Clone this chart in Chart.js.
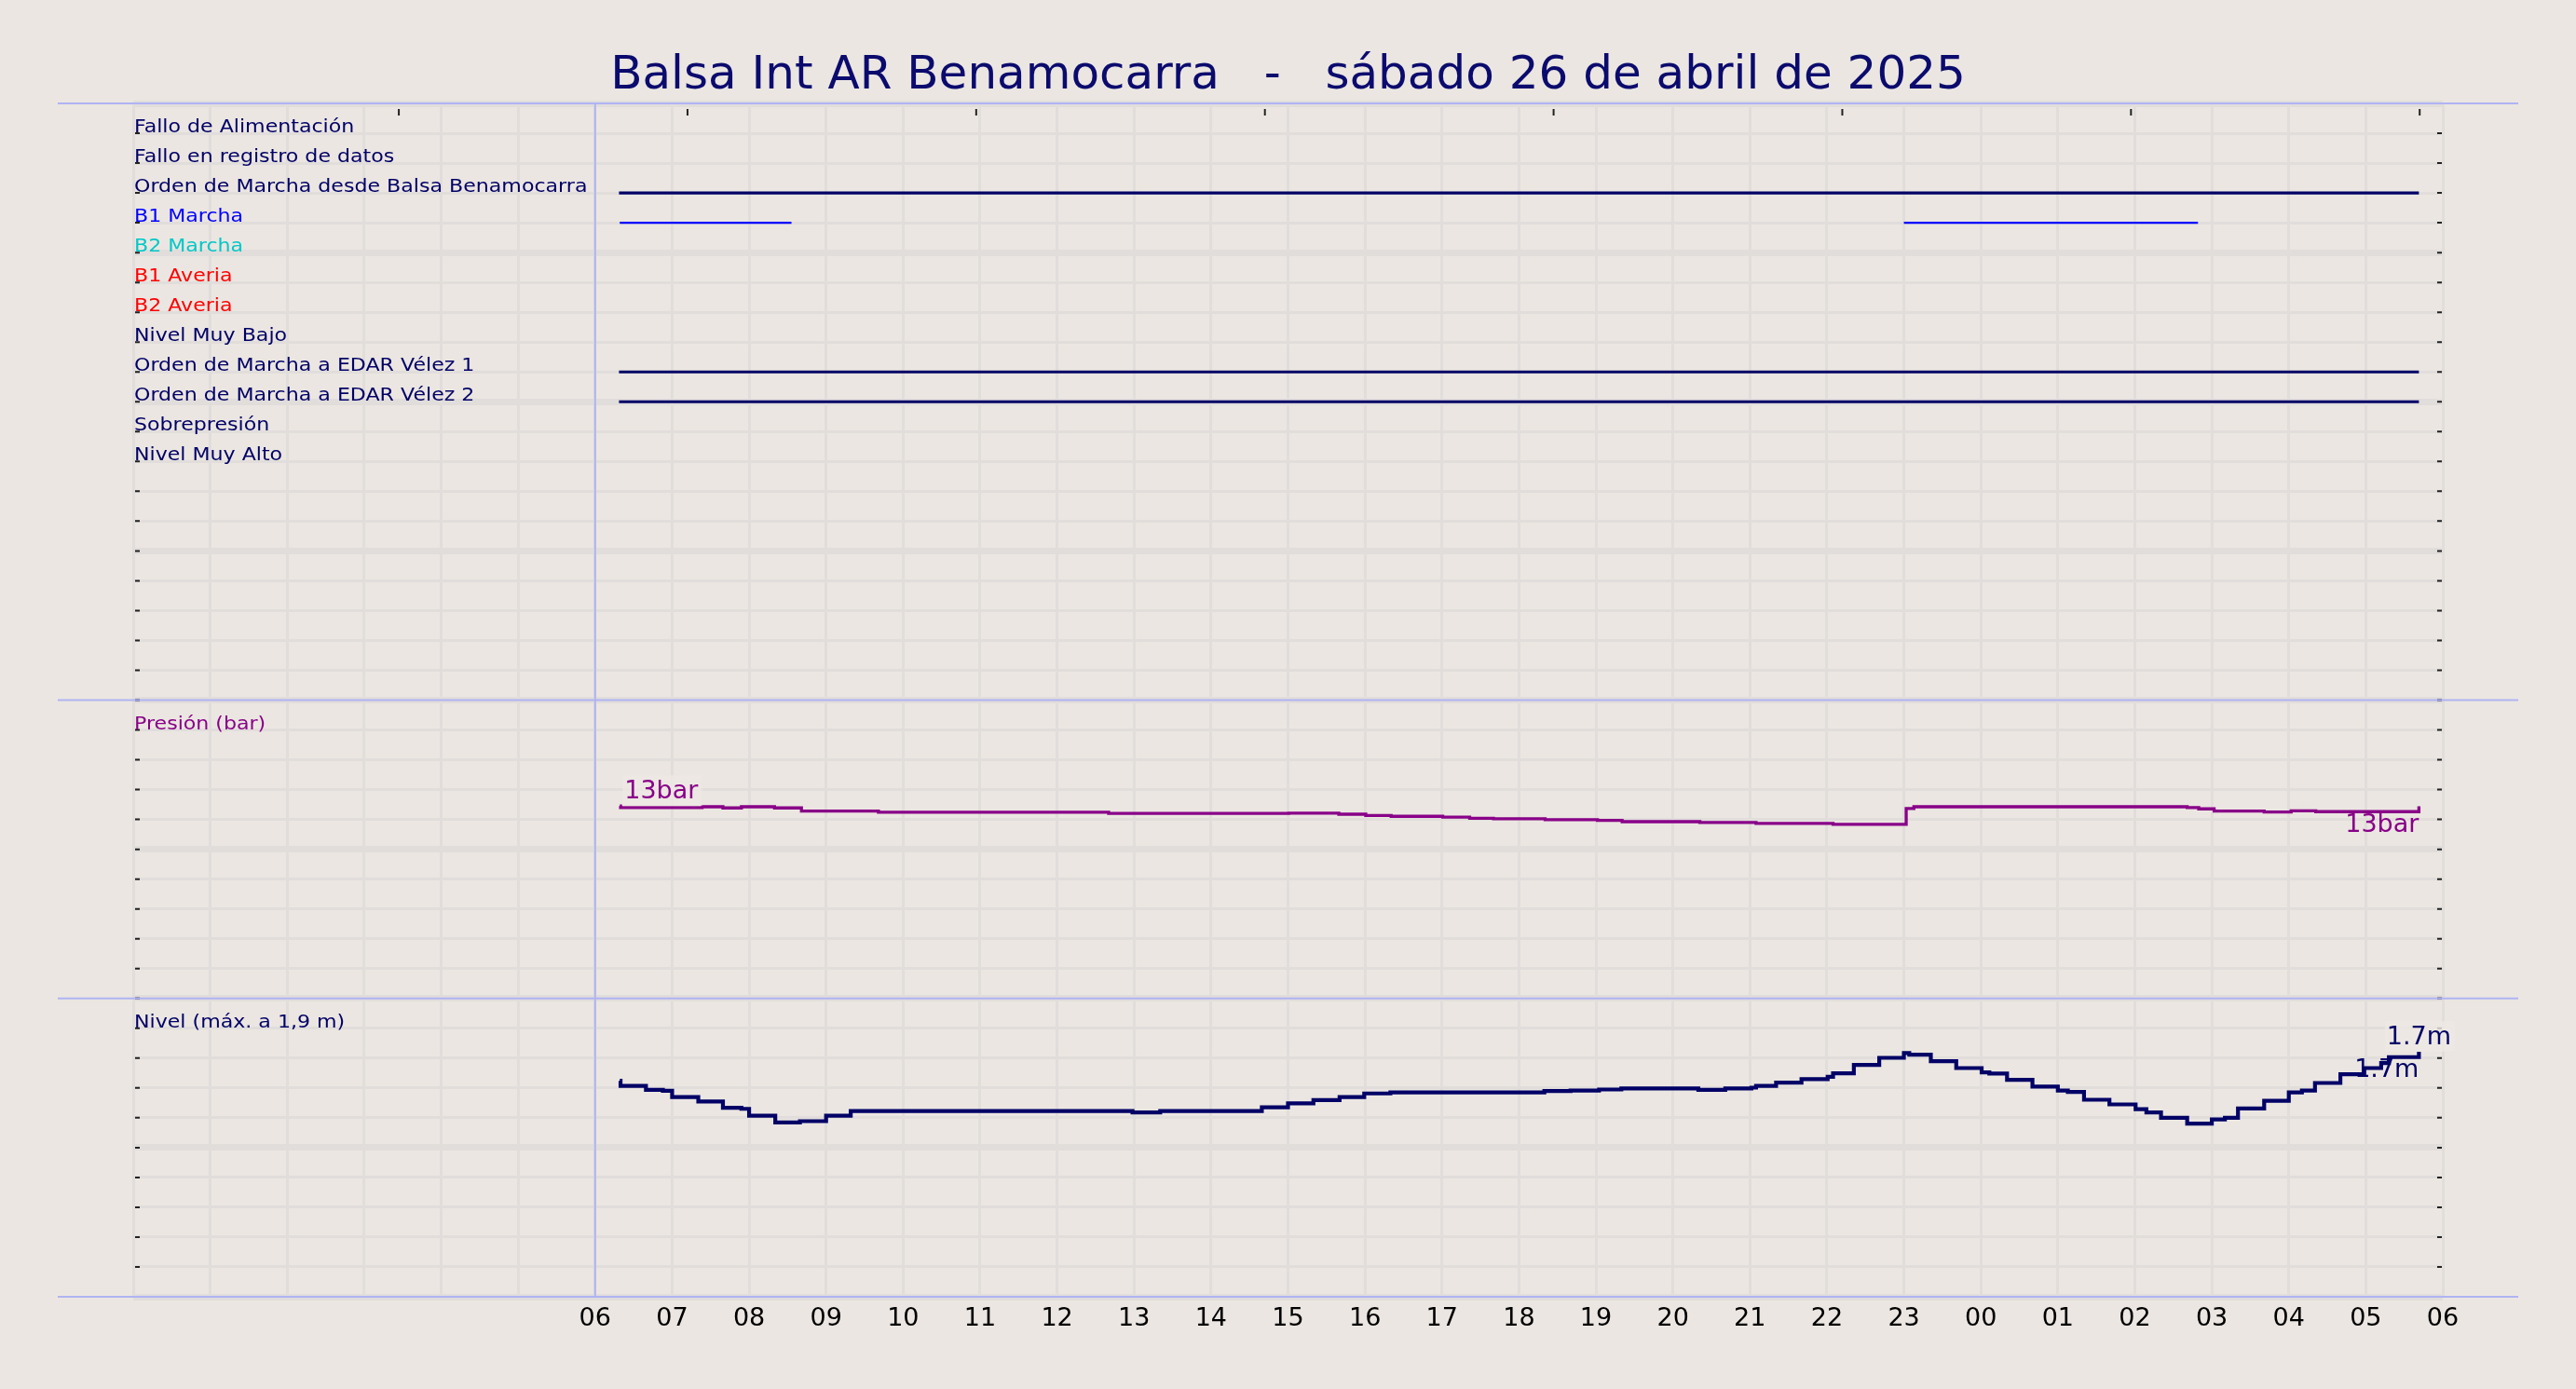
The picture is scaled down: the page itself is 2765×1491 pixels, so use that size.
<!DOCTYPE html>
<html><head><meta charset="utf-8">
<script src="https://cdn.jsdelivr.net/npm/chart.js@4.4.1/dist/chart.umd.min.js"></script>
<style>html,body{margin:0;padding:0;background:#ebe6e1;overflow:hidden}#wrap{width:2765px;height:1491px}</style>
</head><body><div id="wrap"><canvas id="c"></canvas></div>
<script>
// ---------------- data ----------------
const titleText = 'Balsa Int AR Benamocarra   -   sábado 26 de abril de 2025';
const hourLabels = ['', '', '', '', '', '', '06', '07', '08', '09', '10', '11', '12', '13', '14', '15', '16', '17', '18', '19', '20', '21', '22', '23', '00', '01', '02', '03', '04', '05', '06'];
const dayStartHour = 6;
const topTickHours = [3.45, 7.2, 10.95, 14.7, 18.45, 22.2, 25.95, 29.7];

const signalNames = ['Fallo de Alimentación', 'Fallo en registro de datos', 'Orden de Marcha desde Balsa Benamocarra', 'B1 Marcha', 'B2 Marcha', 'B1 Averia', 'B2 Averia', 'Nivel Muy Bajo', 'Orden de Marcha a EDAR Vélez 1', 'Orden de Marcha a EDAR Vélez 2', 'Sobrepresión', 'Nivel Muy Alto'];
const signalLabelColors = ['#000066', '#000066', '#000066', '#0000ff', '#00c8c8', '#ff0000', '#ff0000', '#000066', '#000066', '#000066', '#000066', '#000066'];
const signalLineColors = ['#000066', '#000066', '#000066', '#0000ff', '#00c8c8', '#ff0000', '#ff0000', '#000066', '#000066', '#000066', '#000066', '#000066'];
const signalOn = [[], [], [[6.31, 29.69]], [[6.32, 8.55], [23.0, 26.82]], [], [], [], [], [[6.31, 29.69]], [[6.31, 29.69]], [], []];

const panelTitles = ['Presión (bar)', 'Nivel (máx. a 1,9 m)'];

const pressureHours = [6.32, 6.33, 7.39, 7.66, 7.90, 8.33, 8.68, 9.68, 12.67, 15.01, 15.66, 16.01, 16.34, 17.01, 17.36, 17.67, 18.34, 19.02, 19.34, 20.35, 21.08, 22.08, 23.03, 23.13, 26.68, 26.83, 27.03, 27.68, 28.03, 28.35, 29.69];
const pressureValues = [12.90, 12.79, 12.85, 12.77, 12.85, 12.77, 12.56, 12.48, 12.40, 12.42, 12.35, 12.27, 12.21, 12.15, 12.08, 12.04, 11.98, 11.94, 11.85, 11.79, 11.73, 11.67, 12.73, 12.85, 12.79, 12.71, 12.56, 12.50, 12.58, 12.52, 12.88];

const levelHours = [6.32, 6.33, 6.66, 6.88, 7.00, 7.34, 7.66, 7.90, 8.00, 8.34, 8.66, 9.00, 9.32, 12.98, 13.34, 14.66, 15.00, 15.33, 15.67, 15.99, 16.33, 18.33, 18.67, 19.04, 19.33, 20.33, 20.68, 21.02, 21.08, 21.34, 21.67, 22.01, 22.08, 22.35, 22.68, 23.00, 23.07, 23.35, 23.68, 24.01, 24.11, 24.34, 24.67, 25.00, 25.13, 25.34, 25.67, 26.01, 26.15, 26.34, 26.68, 27.00, 27.17, 27.34, 27.68, 28.00, 28.17, 28.34, 28.67, 28.98, 29.20, 29.30, 29.69];
const levelValues = [1.52, 1.485, 1.457, 1.450, 1.406, 1.374, 1.330, 1.323, 1.275, 1.227, 1.236, 1.275, 1.308, 1.297, 1.308, 1.334, 1.361, 1.385, 1.406, 1.431, 1.439, 1.448, 1.452, 1.459, 1.466, 1.457, 1.466, 1.472, 1.485, 1.507, 1.532, 1.549, 1.573, 1.632, 1.682, 1.715, 1.704, 1.658, 1.610, 1.579, 1.571, 1.527, 1.479, 1.451, 1.442, 1.387, 1.354, 1.321, 1.297, 1.260, 1.219, 1.249, 1.260, 1.326, 1.380, 1.439, 1.452, 1.505, 1.566, 1.610, 1.645, 1.687, 1.724];

// ---------------- style ----------------
const BG = '#ebe6e1', GRID = '#e1dddb', SEP = '#b0b3f3';
const FONT = '"DejaVu Sans", "Noto Sans", sans-serif';
Chart.defaults.font.family = FONT;

const datasets = [];
signalOn.forEach((ivs, i) => {
  if (!ivs.length) return;
  const data = [];
  ivs.forEach(([s, e], k) => {
    if (k) data.push({x: s, y: null});
    data.push({x: s, y: i + 1}, {x: e, y: i + 1});
  });
  datasets.push({data, yAxisID: 'yD', borderColor: signalLineColors[i], borderWidth: signalLineColors[i] === '#0000ff' ? 2.3 : 3.2, pointRadius: 0, spanGaps: false});
});
datasets.push({data: pressureHours.map((h, i) => ({x: h, y: pressureValues[i]})), yAxisID: 'yP', stepped: true, borderColor: '#880088', borderWidth: 3.3, pointRadius: 0});
datasets.push({data: levelHours.map((h, i) => ({x: h, y: levelValues[i]})), yAxisID: 'yL', stepped: true, borderColor: '#000066', borderWidth: 4.2, pointRadius: 0});
const presIdx = datasets.length - 2, lvlIdx = datasets.length - 1;

const gridOpts = {color: GRID, lineWidth: c => (c.index % 5 === 0 ? 7 : 3), drawTicks: false};

function drawValueLabels(ctx, meta, values, fmt, color) {
  const pts = meta.data;
  let mi = 0;
  values.forEach((v, i) => { if (v > values[mi]) mi = i; });
  const last = pts.length - 1;
  ctx.font = '27px ' + FONT;
  ctx.textBaseline = 'alphabetic';
  ctx.textAlign = 'left';
  // max label with a soft box
  const t1 = fmt(values[mi]);
  const w1 = ctx.measureText(t1).width;
  const x1 = Math.max(pts[mi].x - w1 / 2, pts[0].x + 5);
  const y1 = pts[mi].y - 8;
  ctx.fillStyle = 'rgba(237,233,228,0.8)';
  ctx.fillRect(x1 - 2, y1 - 25, w1 + 6, 33);
  ctx.fillStyle = color;
  ctx.fillText(t1, x1, y1);
  // last value label
  const t2 = fmt(values[last]);
  const w2 = ctx.measureText(t2).width;
  ctx.fillText(t2, pts[last].x - w2, pts[last].y + 27);
}

function stretchedText(ctx, text, x, y) {
  ctx.save();
  ctx.translate(x, y);
  ctx.scale(1.105, 1);
  ctx.fillText(text, 0, 0);
  ctx.restore();
}

const decor = {
  id: 'decor',
  beforeDraw(chart) {
    const c = chart.ctx;
    c.save(); c.fillStyle = BG; c.fillRect(0, 0, chart.width, chart.height); c.restore();
  },
  beforeDatasetsDraw(chart) {
    const {ctx, chartArea: a, scales: s} = chart;
    ctx.save();
    // side dashes
    ctx.strokeStyle = '#222'; ctx.lineWidth = 2;
    ['yD', 'yP', 'yL'].forEach(id => {
      s[id].ticks.forEach((t, i) => {
        const y = s[id].getPixelForTick(i);
        ctx.beginPath();
        ctx.moveTo(a.left + 2, y); ctx.lineTo(a.left + 7, y);
        ctx.moveTo(a.right - 6, y); ctx.lineTo(a.right - 1, y);
        ctx.stroke();
      });
    });
    // top ticks
    ctx.lineWidth = 2;
    topTickHours.forEach(h => {
      const x = s.x.getPixelForValue(h);
      ctx.beginPath(); ctx.moveTo(x, a.top + 6); ctx.lineTo(x, a.top + 13); ctx.stroke();
    });
    // separators
    ctx.strokeStyle = SEP; ctx.lineWidth = 2;
    [s.yD.top, s.yP.top, s.yL.top, s.yL.bottom].forEach(y => {
      ctx.beginPath(); ctx.moveTo(a.left - 81, y); ctx.lineTo(a.right + 81, y); ctx.stroke();
    });
    const xd = s.x.getPixelForValue(dayStartHour);
    ctx.beginPath(); ctx.moveTo(xd, a.top); ctx.lineTo(xd, a.bottom); ctx.stroke();
    // row labels
    ctx.font = '20px ' + FONT; ctx.textBaseline = 'alphabetic'; ctx.textAlign = 'left';
    signalNames.forEach((n, i) => {
      ctx.fillStyle = signalLabelColors[i];
      stretchedText(ctx, n, a.left + 1, s.yD.getPixelForValue(i + 1) - 1);
    });
    ctx.fillStyle = '#880088';
    stretchedText(ctx, panelTitles[0], a.left + 1, s.yP.getPixelForTick(s.yP.ticks.length - 2) - 1);
    ctx.fillStyle = '#000066';
    stretchedText(ctx, panelTitles[1], a.left + 1, s.yL.getPixelForTick(s.yL.ticks.length - 2) - 1);
    ctx.restore();
  },
  afterDatasetsDraw(chart) {
    const ctx = chart.ctx;
    ctx.save();
    drawValueLabels(ctx, chart.getDatasetMeta(presIdx), pressureValues, v => Math.round(v) + 'bar', '#880088');
    drawValueLabels(ctx, chart.getDatasetMeta(lvlIdx), levelValues, v => v.toFixed(1) + 'm', '#000066');
    ctx.restore();
  }
};

new Chart(document.getElementById('c'), {
  type: 'line',
  data: {datasets},
  plugins: [decor],
  options: {
    responsive: true, maintainAspectRatio: false, devicePixelRatio: 1, animation: false,
    layout: {padding: {left: 143, right: 143, top: 0, bottom: 0}},
    plugins: {
      legend: {display: false}, tooltip: {enabled: false},
      title: {display: true, text: titleText, color: '#0b0b6e', font: {size: 50, family: FONT, weight: 'normal', lineHeight: 1.1}, padding: {top: 55, bottom: 1}}
    },
    scales: {
      x: {type: 'linear', position: 'bottom', min: 0, max: 30,
        afterFit: sc => { sc.height = 99; },
        ticks: {stepSize: 1, autoSkip: false, maxRotation: 0, padding: 8, color: '#000', font: {size: 27, family: FONT}, callback: v => hourLabels[v] ?? ''},
        grid: {color: GRID, lineWidth: 3, drawTicks: false}, border: {display: false}},
      yL: {type: 'linear', position: 'left', stack: 'p', stackWeight: 1, min: 0, max: 2.1,
        afterBuildTicks: sc => { sc.ticks = Array.from({length: 11}, (_, i) => ({value: i * 0.21})); },
        afterFit: sc => { sc.width = 0; },
        ticks: {display: false}, grid: gridOpts, border: {display: false}},
      yP: {type: 'linear', position: 'left', stack: 'p', stackWeight: 1, min: 0, max: 20,
        afterFit: sc => { sc.width = 0; },
        ticks: {display: false, stepSize: 2}, grid: gridOpts, border: {display: false}},
      yD: {type: 'linear', position: 'left', stack: 'p', stackWeight: 2, min: 0, max: 20, reverse: true,
        afterFit: sc => { sc.width = 0; },
        ticks: {display: false, stepSize: 1}, grid: gridOpts, border: {display: false}}
    }
  }
});
</script></body></html>
